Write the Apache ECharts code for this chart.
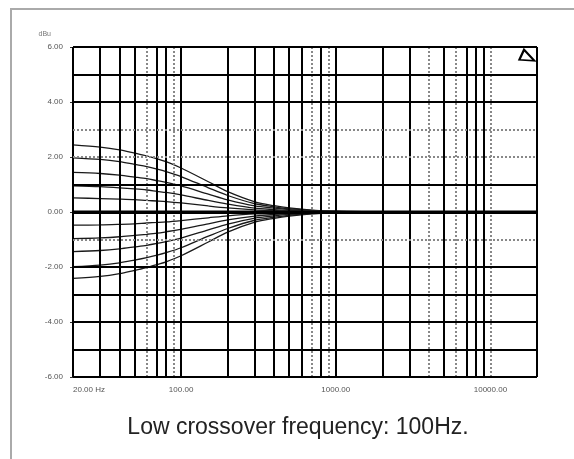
<!DOCTYPE html>
<html>
<head>
<meta charset="utf-8">
<script src="https://cdn.jsdelivr.net/npm/echarts@6/dist/echarts.min.js"></script>
<style>
  html, body { margin: 0; padding: 0; background: #fff; }
  #main { width: 574px; height: 459px; }
</style>
</head>
<body>
<div id="main"></div>
<script>
// frequencies (Hz) where the curves were read
const freqs = [20, 30, 40, 50, 60, 70, 80, 100, 150, 200, 300, 400, 500, 700, 1000, 2000, 20000];

// boost curves (dBu)
const boost25 = [2.44, 2.36, 2.26, 2.14, 2.04, 1.93, 1.83, 1.60, 1.10, 0.74, 0.37, 0.23, 0.15, 0.07, 0.03, 0, 0];
const boost20 = [1.97, 1.91, 1.83, 1.73, 1.65, 1.56, 1.47, 1.29, 0.88, 0.60, 0.30, 0.19, 0.12, 0.06, 0.02, 0, 0];
const boost15 = [1.44, 1.40, 1.34, 1.27, 1.21, 1.14, 1.08, 0.95, 0.65, 0.44, 0.22, 0.14, 0.09, 0.04, 0.02, 0, 0];
const boost10 = [0.95, 0.92, 0.88, 0.84, 0.80, 0.75, 0.71, 0.62, 0.42, 0.29, 0.14, 0.09, 0.06, 0.03, 0.01, 0, 0];
const boost05 = [0.51, 0.49, 0.47, 0.45, 0.42, 0.40, 0.38, 0.33, 0.22, 0.15, 0.08, 0.05, 0.03, 0.02, 0.01, 0, 0];
const flat    = [0, 0, 0, 0, 0, 0, 0, 0, 0, 0, 0, 0, 0, 0, 0, 0, 0];
// cut curves (dBu)
const cut05 = [-0.48, -0.47, -0.45, -0.43, -0.40, -0.38, -0.36, -0.31, -0.21, -0.14, -0.07, -0.05, -0.03, -0.02, -0.01, 0, 0];
const cut10 = [-0.97, -0.94, -0.90, -0.85, -0.81, -0.77, -0.72, -0.63, -0.43, -0.29, -0.15, -0.09, -0.06, -0.03, -0.01, 0, 0];
const cut15 = [-1.44, -1.40, -1.34, -1.27, -1.21, -1.14, -1.08, -0.95, -0.65, -0.44, -0.22, -0.14, -0.09, -0.04, -0.02, 0, 0];
const cut20 = [-1.99, -1.93, -1.85, -1.75, -1.66, -1.57, -1.48, -1.30, -0.88, -0.60, -0.30, -0.19, -0.12, -0.06, -0.02, 0, 0];
const cut25 = [-2.41, -2.34, -2.24, -2.12, -2.02, -1.91, -1.81, -1.59, -1.09, -0.73, -0.37, -0.23, -0.15, -0.07, -0.03, 0, 0];

// grid lines and labels
const freqGrid = [20, 30, 40, 50, 60, 70, 80, 90, 100, 200, 300, 400, 500, 600, 700, 800, 900,
                  1000, 2000, 3000, 4000, 5000, 6000, 7000, 8000, 9000, 10000, 20000];
const freqDotted = [60, 90, 700, 900, 4000, 6000, 10000];
const freqLabels = [20, 100, 1000, 10000];
const dbGrid = [-6, -5, -4, -3, -2, -1, 0, 1, 2, 3, 4, 5, 6];
const dbDotted = [3, 2, -1];
const cursorMark = [17200, 5.7];

const curves = [boost25, boost20, boost15, boost10, boost05, cut05, cut10, cut15, cut20, cut25];

function gridLines() {
    let out = [];
    freqGrid.forEach(f => {
        let dotted = freqDotted.indexOf(f) >= 0;
        out.push({
            xAxis: f,
            lineStyle: dotted
                ? { color: '#888', width: 2, type: 'dotted' }
                : { color: '#000', width: 2, type: 'solid' }
        });
    });
    dbGrid.forEach(d => {
        let dotted = dbDotted.indexOf(d) >= 0;
        out.push({
            yAxis: d,
            lineStyle: dotted
                ? { color: '#888', width: 2, type: 'dotted' }
                : { color: '#000', width: d === 0 ? 3 : 2, type: 'solid' }
        });
    });
    return out;
}

const pair = arr => freqs.map((f, i) => [f, arr[i]]);

let series = [{
    type: 'line',
    data: pair(flat),
    symbol: 'none',
    lineStyle: { color: '#000', width: 3 },
    z: 1,
    markLine: {
        silent: true,
        symbol: ['none', 'none'],
        label: { show: false },
        data: gridLines()
    },
    markPoint: {
        symbol: 'path://M0,10 L5,0 L16,11 Z',
        symbolSize: [15, 11],
        itemStyle: { color: 'rgba(0,0,0,0)', borderColor: '#000', borderWidth: 2 },
        label: { show: false },
        data: [{ coord: cursorMark }]
    }
}];

curves.forEach(c => {
    series.push({
        type: 'line',
        data: pair(c),
        symbol: 'none',
        smooth: 0.3,
        lineStyle: { color: '#1a1a1a', width: 1.3 },
        z: 3
    });
});

let chart = echarts.init(document.getElementById('main'), null, { renderer: 'canvas' });
chart.setOption({
    animation: false,
    backgroundColor: '#fff',
    title: {
        text: 'Low crossover frequency: 100Hz.',
        left: 293,
        top: 411,
        textAlign: 'center',
        textStyle: { fontFamily: 'Liberation Sans', fontSize: 23, fontWeight: 'normal', color: '#222' }
    },
    graphic: [{
        type: 'rect',
        shape: { x: 11, y: 9, width: 620, height: 520 },
        style: { fill: 'none', stroke: '#aaa', lineWidth: 2 },
        z: -1
    }],
    grid: { left: 73, right: 37, top: 47, bottom: 82 },
    xAxis: {
        type: 'log',
        logBase: 10,
        min: 20,
        max: 20000,
        axisLine: { show: false },
        axisTick: { show: false },
        splitLine: { show: false },
        axisLabel: {
            customValues: freqLabels,
            margin: 9,
            alignMinLabel: 'left',
            fontFamily: 'Liberation Sans',
            fontSize: 8,
            color: '#555',
            formatter: v => v === 20 ? '20.00 Hz' : v.toFixed(2)
        }
    },
    yAxis: {
        type: 'value',
        min: -6,
        max: 6,
        interval: 2,
        name: 'dBu',
        nameLocation: 'end',
        nameGap: 9,
        nameTextStyle: { fontFamily: 'Liberation Sans', fontSize: 7, color: '#777', align: 'right', padding: [0, 22, 0, 0] },
        axisLine: { show: false },
        axisTick: { show: true, length: 3, lineStyle: { color: '#333', width: 1 } },
        splitLine: { show: false },
        axisLabel: {
            margin: 10,
            fontFamily: 'Liberation Sans',
            fontSize: 8,
            color: '#555',
            formatter: v => v.toFixed(2)
        }
    },
    series: series
});
</script>
</body>
</html>
